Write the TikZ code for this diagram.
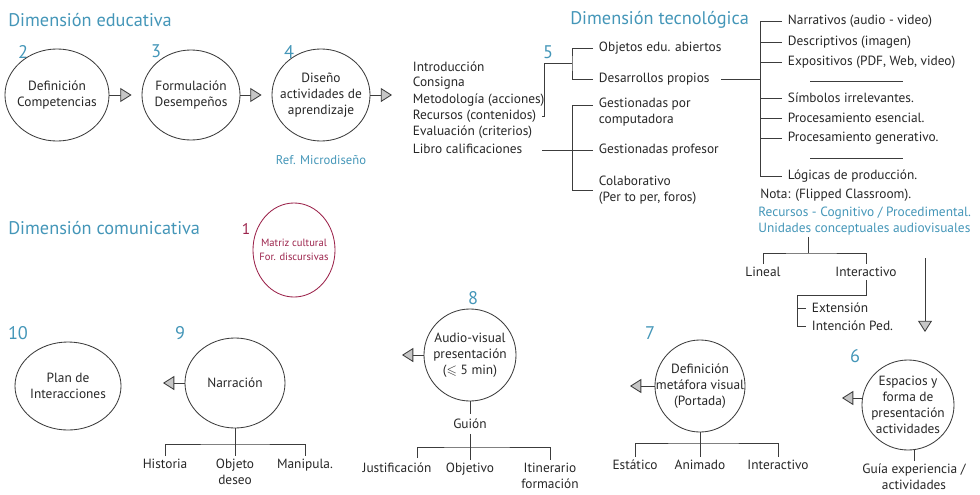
\documentclass[tikz,border=0pt]{standalone}
\usepackage{fontspec}
\setmainfont{PT Sans}
\usepackage{amssymb}
\usetikzlibrary{arrows.meta}
\usetikzlibrary{shapes.geometric}
\definecolor{dimblue}{RGB}{68,150,184}
\definecolor{matriz}{RGB}{155,35,75}
\definecolor{linegray}{RGB}{60,60,60}

\tikzset{
  ring/.style={draw=linegray, ellipse, line width=0.6pt, inner sep=0pt},
  ringtext/.style={align=center, text=black!85, font=\fontsize{9.5}{11.5}\selectfont},
  num/.style={text=dimblue, font=\fontsize{13}{14}\selectfont},
  dimtitle/.style={text=dimblue, anchor=west, inner sep=0pt, font=\fontsize{13}{15}\selectfont},
  item/.style={anchor=west, inner xsep=4pt, inner ysep=1pt, align=left, text=black!85, font=\fontsize{9.5}{11.5}\selectfont},
  leaf/.style={anchor=north, inner sep=2pt, align=center, text=black!85, font=\fontsize{9.5}{11.5}\selectfont},
  tree/.style={draw=linegray, line width=0.6pt},
  flow/.style={draw=linegray, line width=0.6pt, -{Triangle[width=10pt,length=8pt,fill=gray!45]}}
}

\begin{document}
\begin{tikzpicture}[x=0.025cm, y=-0.025cm]
        \useasboundingbox (0,0) rectangle (980,494);

        % Dimension educativa
        \node[dimtitle] (tedu) at (8,20) {Dimensión educativa};
        \node[num] (n2) at (23,52) {2};
        \node[num] (n3) at (156,51) {3};
        \node[num] (n4) at (289,52) {4};
        \node[ring, minimum width=2.6cm, minimum height=2.3cm] (c2) at (57,95) {};
        \node[ringtext] (t2) at (c2) {Definición\\Competencias};
        \node[ring, minimum width=2.45cm, minimum height=2.25cm] (c3) at (191,95) {};
        \node[ringtext] (t3) at (c3) {Formulación\\Desempeños};
        \node[ring, minimum width=2.45cm, minimum height=2.3cm] (c4) at (321,95) {};
        \node[ringtext] (t4) at (c4) {Diseño\\actividades de\\aprendizaje};
        \node[text=dimblue, font=\fontsize{9}{11}\selectfont] (ref) at (321,160) {Ref. Microdiseño};
        \coordinate (a4) at (392,95);
        \draw[flow, shorten >=0.25cm] (c2.east) -- (c3.west);
        \draw[flow, shorten >=0.25cm] (c3.east) -- (c4.west);
        \draw[flow] (c4.east) -- (a4);

        % Lista del disenio
        \node[item] (intro) at (407,67) {Introducción};
        \node[item] (cons) at (407,83) {Consigna};
        \node[item] (meto) at (407,100) {Metodología (acciones)};
        \node[item] (rec) at (407,116) {Recursos (contenidos)};
        \node[item] (eva) at (407,132) {Evaluación (criterios)};
        \node[item] (lib) at (407,149) {Libro calificaciones};

        % 5: recursos y gestion
        \node[num] (n5) at (548,52) {5};
        \coordinate (j5) at (572,63);
        \node[item] (obj) at (593,48) {Objetos edu. abiertos};
        \node[item] (dpr) at (593,79) {Desarrollos propios};
        \draw[tree] (rec.east) -- ++(2,0) |- (j5);
        \draw[tree] (obj.west) -| (j5) |- (dpr.west);

        \node[item] (gpc) at (593,112) {Gestionadas por\\computadora};
        \node[item] (gpf) at (593,150) {Gestionadas profesor};
        \node[item] (col) at (593,190) {Colaborativo\\(Per to per, foros)};
        \coordinate (l0) at (542,150);
        \coordinate (g1) at (572,105);
        \draw[tree] (l0) -- (gpf.west);
        \draw[tree] (g1 -| gpc.west) -- (g1) |- (col.west);

        % Dimension tecnologica
        \node[dimtitle] (ttec) at (570,20) {Dimensión tecnológica};
        \coordinate (t0) at (760,0);
        \node[item] (nar) at (782,21) {Narrativos (audio - video)};
        \node[item] (des) at (782,42) {Descriptivos (imagen)};
        \node[item] (exp) at (782,62) {Expositivos (PDF, Web, video)};
        \node[item] (sim) at (782,98) {Símbolos irrelevantes.};
        \node[item] (pes) at (782,118) {Procesamiento esencial.};
        \node[item] (pge) at (782,138) {Procesamiento generativo.};
        \node[item] (log) at (782,176) {Lógicas de producción.};
        \draw[tree] (nar.west) -| (t0 |- log.west) -- (log.west);
        \foreach \n in {des,exp,sim,pes,pge}
            \draw[tree] (\n.west) -- (\n.west -| t0);
        \draw[tree, shorten <=4pt] (dpr.east) -- (dpr.east -| t0);
        \draw[tree] (810,81) -- (903,81);
        \draw[tree] (810,158) -- (903,158);

        \node[item, inner xsep=0pt] (nota) at (760,195) {Nota: (Flipped Classroom).};
        \node[item, inner xsep=0pt, text=dimblue] (rcp) at (758,213) {Recursos - Cognitivo / Procedimental.};
        \node[item, inner xsep=0pt, text=dimblue] (unid) at (758,229) {Unidades conceptuales audiovisuales};

        % Lineal / Interactivo
        \coordinate (u0) at (808,253);
        \node[leaf] (lin) at (763,264) {Lineal};
        \node[leaf] (inter) at (866,264) {Interactivo};
        \draw[tree] (u0 |- unid.south) -- (u0);
        \draw[tree] (lin.north) |- (u0) -| (inter.north);
        \coordinate (k0) at (797,295);
        \node[item] (ext) at (806,308) {Extensión};
        \node[item] (intp) at (806,326) {Intención Ped.};
        \draw[tree] (inter.south) |- (k0) |- (intp.west);
        \draw[tree] (k0 |- ext.west) -- (ext.west);
        \coordinate (d0) at (925,258);
        \coordinate (d1) at (925,332);
        \draw[flow] (d0) -- (d1);

        % Dimension comunicativa
        \node[dimtitle] (tcom) at (8,228) {Dimensión comunicativa};
        \node[text=matriz, font=\fontsize{11}{13}\selectfont] (n1) at (246,229) {1};
        \node[ring, draw=matriz, minimum width=2.05cm, minimum height=2.35cm] (c1) at (294,250) {};
        \node[ringtext, text=matriz, font=\fontsize{7.5}{10}\selectfont] (t1) at (c1) {Matriz cultural\\For. discursivas};

        % 10 y 9
        \node[num] (n10) at (18,333) {10};
        \node[ring, minimum width=2.65cm, minimum height=2.2cm] (c10) at (68,386) {};
        \node[ringtext] (t10) at (c10) {Plan de\\Interacciones};
        \node[num] (n9) at (180,333) {9};
        \node[ring, minimum width=2.5cm, minimum height=2.25cm] (c9) at (235,383) {};
        \node[ringtext] (t9) at (c9) {Narración};
        \coordinate (a9) at (163,383);
        \draw[flow] (c9.west) -- (a9);
        \coordinate (b9) at (235,444);
        \node[leaf] (his) at (165,456) {Historia};
        \node[leaf] (obj9) at (235,456) {Objeto\\deseo};
        \node[leaf] (man) at (305,456) {Manipula.};
        \draw[tree] (c9.south) -- (obj9.north);
        \draw[tree] (his.north) |- (b9) -| (man.north);

        % 8
        \node[num] (n8) at (473,298) {8};
        \node[ring, minimum width=2.3cm, minimum height=2.3cm] (c8) at (470,355) {};
        \node[ringtext] (t8) at (c8) {Audio-visual\\presentación\\($\leqslant$ 5 min)};
        \coordinate (a8) at (402,355);
        \draw[flow] (c8.west) -- (a8);
        \node[ringtext] (guion) at (470,424) {Guión};
        \draw[tree] (c8.south) -- (guion.north);
        \coordinate (b8) at (470,447);
        \coordinate (s8) at (417,458);
        \node[leaf] (jus) at (397,460) {Justificación};
        \node[leaf] (obj8) at (470,460) {Objetivo};
        \node[leaf] (iti) at (550,460) {Itinerario\\formación};
        \draw[tree] (guion.south) -- (obj8.north);
        \draw[tree] (s8) |- (b8) -| (iti.north);

        % 7
        \node[num] (n7) at (650,333) {7};
        \node[ring, minimum width=2.25cm, minimum height=2.3cm] (c7) at (700,386) {};
        \node[ringtext] (t7) at (c7) {Definición\\metáfora visual\\(Portada)};
        \coordinate (a7) at (630,386);
        \draw[flow] (c7.west) -- (a7);
        \coordinate (b7) at (700,443);
        \node[leaf] (est) at (635,457) {Estático};
        \node[leaf] (ani) at (700,457) {Animado};
        \node[leaf] (int7) at (778,457) {Interactivo};
        \draw[tree] (c7.south) -- (ani.north);
        \draw[tree] (est.north) |- (b7) -| (int7.north);

        % 6
        \node[num] (n6) at (855,356) {6};
        \node[ring, minimum width=2.3cm, minimum height=2.25cm] (c6) at (908,405) {};
        \node[ringtext] (t6) at (c6) {Espacios y\\forma de\\presentación\\actividades};
        \coordinate (a6) at (842,398);
        \draw[flow] (a6 -| c6.west) -- (a6);
        \node[leaf] (guia) at (914,461) {Guía experiencia /\\actividades};
        \draw[tree] (guia.north) -- (guia.north |- c6.south);
\end{tikzpicture}
\end{document}
